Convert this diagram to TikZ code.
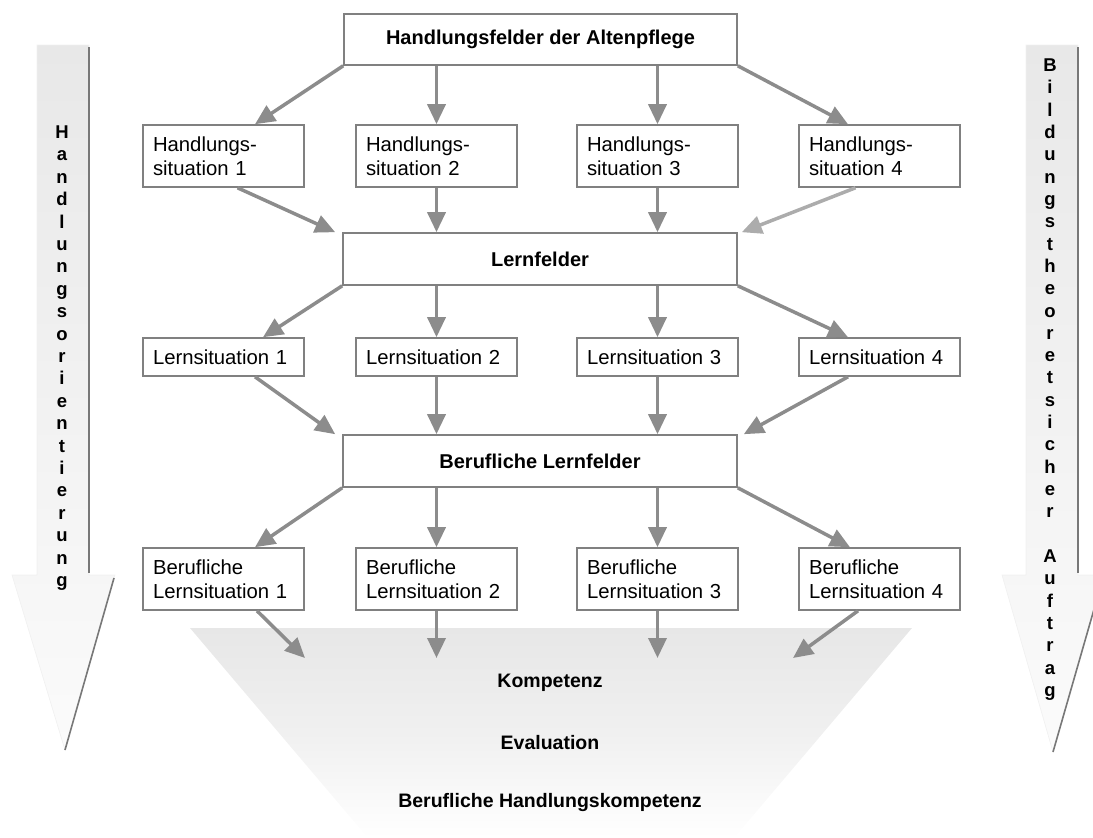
\documentclass[tikz,border=0pt]{standalone}
\usepackage{fontspec}
\setmainfont{Liberation Sans}
\usetikzlibrary{arrows.meta}
\definecolor{arrowgray}{RGB}{140,140,140}
\definecolor{lightarrow}{RGB}{172,172,172}
\definecolor{boxgray}{RGB}{128,128,128}
\definecolor{sidefill}{RGB}{232,232,232}
\definecolor{sideend}{RGB}{251,251,251}
\definecolor{funnelfill}{RGB}{231,231,231}
\definecolor{funnelmid}{RGB}{240,240,240}
\definecolor{shadowgray}{RGB}{120,120,120}
\begin{document}
\begin{tikzpicture}[x=1pt,y=-1pt,
  bigbox/.style={draw=boxgray, line width=1.6pt, fill=white, minimum width=393pt,
    minimum height=51pt, inner sep=0pt, font=\fontsize{20}{24}\selectfont\bfseries},
  smallbox/.style={draw=boxgray, line width=1.6pt, fill=white, text width=141pt,
    align=left, inner xsep=10pt, inner ysep=0pt, font=\fontsize{20.3}{24}\selectfont},
  tworow/.style={smallbox, minimum height=62pt},
  onerow/.style={smallbox, minimum height=38pt},
  conn/.style={draw=arrowgray, line width=3.5pt, -{Triangle[length=20pt,width=18pt]}},
  lightconn/.style={conn, draw=lightarrow},
  sideletter/.style={anchor=base, inner sep=0pt, font=\fontsize{18.5}{20}\selectfont\bfseries},
  funneltext/.style={inner sep=0pt, font=\fontsize{19.5}{24}\selectfont\bfseries}
]
\useasboundingbox (0,0) rectangle (1093,838);
\clip (0,0) rectangle (1093,838);

% funnel
\shade[top color=funnelfill, bottom color=white, middle color=funnelmid]
  (190,628) -- (912,628) -- (734,838) -- (368,838) -- cycle;
\node[funneltext] (komp) at (550,683) {Kompetenz};
\node[funneltext] (eval) at (550,743) {Evaluation};
\node[funneltext] (bhk)  at (550,802) {Berufliche Handlungskompetenz};

% side arrows
\shade[top color=sidefill, bottom color=sideend, draw=black!6, line width=0.6pt]
  (37,45) -- (89,45) -- (89,575) -- (115,575) -- (65,750) -- (12,575) -- (37,575) -- cycle;
\draw[shadowgray, line width=1.6pt] (89,47) -- (89,573);
\draw[shadowgray, line width=1.6pt] (114,578) -- (65,750);
\shade[top color=sidefill, bottom color=sideend, draw=black!6, line width=0.6pt]
  (1026,45) -- (1078,45) -- (1078,575) -- (1104,575) -- (1053,752) -- (1002,575) -- (1026,575) -- cycle;
\draw[shadowgray, line width=1.6pt] (1078,47) -- (1078,573);
\draw[shadowgray, line width=1.6pt] (1103,578) -- (1053,752);

\foreach \c [count=\i from 0] in {H,a,n,d,l,u,n,g,s,o,r,i,e,n,t,i,e,r,u,n,g}
  \node[sideletter] (ll\i) at (62,{138.5+22.4*\i}) {\c};
\foreach \c [count=\i from 0] in {B,i,l,d,u,n,g,s,t,h,e,o,r,e,t,s,i,c,h,e,r}
  \node[sideletter] (rl\i) at (1050,{71.5+22.32*\i}) {\c};
\foreach \c [count=\i from 22] in {A,u,f,t,r,a,g}
  \node[sideletter] (rl\i) at (1050,{71.5+22.32*\i}) {\c};

% central boxes
\node[bigbox] (top) at (540.5,39.5) {Handlungsfelder der Altenpflege};
\node[bigbox, minimum width=394pt, minimum height=52pt] (lf) at (540,259) {Lernfelder};
\node[bigbox, minimum width=394pt, minimum height=52pt] (blf) at (540,461) {Berufliche Lernfelder};

% row 1
\node[tworow] (hs1) at (223.5,156) {Handlungs-\\situation 1};
\node[tworow] (hs2) at (436.5,156) {Handlungs-\\situation 2};
\node[tworow] (hs3) at (657.5,156) {Handlungs-\\situation 3};
\node[tworow] (hs4) at (879.5,156) {Handlungs-\\situation 4};
% row 2
\node[onerow] (ls1) at (223.5,357) {Lernsituation 1};
\node[onerow] (ls2) at (436.5,357) {Lernsituation 2};
\node[onerow] (ls3) at (657.5,357) {Lernsituation 3};
\node[onerow] (ls4) at (879.5,357) {Lernsituation 4};
% row 3
\node[tworow] (bls1) at (223.5,579) {Berufliche\\Lernsituation 1};
\node[tworow] (bls2) at (436.5,579) {Berufliche\\Lernsituation 2};
\node[tworow] (bls3) at (657.5,579) {Berufliche\\Lernsituation 3};
\node[tworow] (bls4) at (879.5,579) {Berufliche\\Lernsituation 4};

% funnel targets
\coordinate (k1) at (305,658);
\coordinate (k2) at (436.5,658);
\coordinate (k3) at (657.5,658);
\coordinate (k4) at (793,658);

% connectors
\draw[conn] (top.south west) -- ([xshift=31.5pt]hs1.north);
\draw[conn] (hs2.north |- top.south) -- (hs2.north);
\draw[conn] (hs3.north |- top.south) -- (hs3.north);
\draw[conn] (top.south east) -- ([xshift=-31.5pt]hs4.north);

\draw[conn] ([xshift=14pt]hs1.south) -- ([xshift=-7pt]lf.north west);
\draw[conn] (hs2.south) -- (hs2.south |- lf.north);
\draw[conn] (hs3.south) -- (hs3.south |- lf.north);
\draw[lightconn] ([xshift=-24pt]hs4.south) -- ([xshift=4pt]lf.north east);

\draw[conn] (lf.south west) -- ([xshift=39.5pt]ls1.north);
\draw[conn] (ls2.north |- lf.south) -- (ls2.north);
\draw[conn] (ls3.north |- lf.south) -- (ls3.north);
\draw[conn] (lf.south east) -- ([xshift=-31.5pt]ls4.north);

\draw[conn] ([xshift=31.5pt]ls1.south) -- ([xshift=-7pt]blf.north west);
\draw[conn] (ls2.south) -- (ls2.south |- blf.north);
\draw[conn] (ls3.south) -- (ls3.south |- blf.north);
\draw[conn] ([xshift=-31.5pt]ls4.south) -- ([xshift=6pt]blf.north east);

\draw[conn] (blf.south west) -- ([xshift=31.5pt]bls1.north);
\draw[conn] (bls2.north |- blf.south) -- (bls2.north);
\draw[conn] (bls3.north |- blf.south) -- (bls3.north);
\draw[conn] (blf.south east) -- ([xshift=-29.5pt]bls4.north);

\draw[conn] ([xshift=33.5pt]bls1.south) -- (k1);
\draw[conn] (bls2.south) -- (k2);
\draw[conn] (bls3.south) -- (k3);
\draw[conn] ([xshift=-21.5pt]bls4.south) -- (k4);
\end{tikzpicture}
\end{document}
